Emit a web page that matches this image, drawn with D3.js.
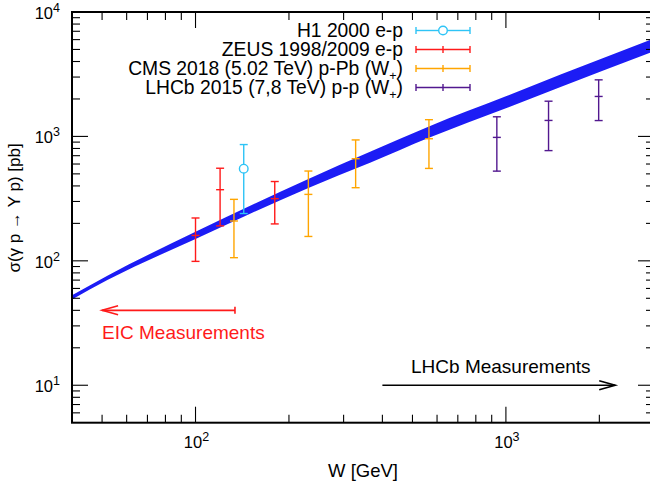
<!DOCTYPE html>
<html>
<head>
<meta charset="utf-8">
<script src="https://cdn.jsdelivr.net/npm/d3@7"></script>
<style>
  body { margin: 0; background: #fff; }
  svg { display: block; font-family: "Liberation Sans", Arial, Helvetica, sans-serif; }
</style>
</head>
<body>
<svg id="chart" width="650" height="489"></svg>
<script>
// theory band (W in GeV, sigma in pb)
const curveW    = [40, 52, 100, 230, 365, 565, 1000, 1500, 3000];
const curveLow  = [49, 70, 150, 384, 614, 974, 1683, 2500, 4840];
const curveHigh = [53, 76, 171, 453, 753, 1204, 2100, 3140, 6140];

// measurements
const h1W = [143], h1Sigma = [550], h1Err = [310];
const zeusW = [100, 120, 180], zeusSigma = [160, 373, 316], zeusErr = [61, 182, 118];
const cmsW = [133, 231, 328, 565], cmsSigma = [209, 342, 662, 958], cmsErr = [103, 185, 275, 405];
const lhcbW = [935, 1372, 1990], lhcbSigma = [982, 1344, 2095], lhcbErr = [456, 575, 754];

const legendLabels = [
  ["H1 2000 e-p"],
  ["ZEUS 1998/2009 e-p"],
  ["CMS 2018 (5.02 TeV) p-Pb (W", "+", ")"],
  ["LHCb 2015 (7,8 TeV) p-p (W", "+", ")"]
];
const xMajor = [100, 1000];
const yMajor = [10, 100, 1000, 10000];

// arrows: [W start, W end, sigma]
const eicArrow = [134, 50, 40];
const lhcbArrow = [400, 2250, 10];

const margin = {left: 72, top: 12, right: 654, bottom: 422.7};

const x = d3.scaleLog().domain([40, 3000]).range([margin.left, margin.right]);
const y = d3.scaleLog().domain([5, 10000]).range([margin.bottom, margin.top]);

const svg = d3.select("#chart");

svg.append("clipPath").attr("id", "clip")
  .append("rect")
  .attr("x", margin.left).attr("y", margin.top)
  .attr("width", margin.right - margin.left).attr("height", margin.bottom - margin.top);

// band
const band = curveW.map((w, i) => ({w, lo: curveLow[i], hi: curveHigh[i]}));
svg.append("path")
  .datum(band)
  .attr("clip-path", "url(#clip)")
  .attr("fill", "#1c1cf5")
  .attr("d", d3.area()
    .x(d => x(d.w))
    .y0(d => y(d.lo))
    .y1(d => y(d.hi))
    .curve(d3.curveMonotoneX));

// error bars
const series = [
  {W: h1W, s: h1Sigma, e: h1Err, color: "#2ec4f6", marker: "circle"},
  {W: zeusW, s: zeusSigma, e: zeusErr, color: "#ff1a1a", marker: "plus"},
  {W: cmsW, s: cmsSigma, e: cmsErr, color: "#ffa500", marker: "plus"},
  {W: lhcbW, s: lhcbSigma, e: lhcbErr, color: "#52188f", marker: "plus"}
];

const capHalf = 4;
series.forEach(sr => {
  const g = svg.append("g").attr("stroke", sr.color).attr("stroke-width", 1.4).attr("fill", "none");
  sr.W.forEach((w, i) => {
    const cx = x(w);
    const top = y(sr.s[i] + sr.e[i]);
    const bot = y(sr.s[i] - sr.e[i]);
    const cy = y(sr.s[i]);
    if (sr.marker === "circle") {
      g.append("line").attr("x1", cx).attr("x2", cx).attr("y1", top).attr("y2", cy - 4.3);
      g.append("line").attr("x1", cx).attr("x2", cx).attr("y1", cy + 4.3).attr("y2", bot);
      g.append("circle").attr("cx", cx).attr("cy", cy).attr("r", 4.3);
    } else {
      g.append("line").attr("x1", cx).attr("x2", cx).attr("y1", top).attr("y2", bot);
      g.append("line").attr("x1", cx - capHalf).attr("x2", cx + capHalf).attr("y1", cy).attr("y2", cy);
    }
    g.append("line").attr("x1", cx - capHalf).attr("x2", cx + capHalf).attr("y1", top).attr("y2", top);
    g.append("line").attr("x1", cx - capHalf).attr("x2", cx + capHalf).attr("y1", bot).attr("y2", bot);
  });
});

// arrows
function arrow(x1, x2, yy, color, tail) {
  const g = svg.append("g").attr("stroke", color).attr("stroke-width", 1.6).attr("fill", "none");
  g.append("line").attr("x1", x1).attr("x2", x2).attr("y1", yy).attr("y2", yy);
  const dir = x2 > x1 ? -1 : 1;
  g.append("polyline")
    .attr("points", `${x2 + dir * 16},${yy - 4.5} ${x2},${yy} ${x2 + dir * 16},${yy + 4.5}`);
  if (tail) g.append("line").attr("x1", x1).attr("x2", x1).attr("y1", yy - 3.5).attr("y2", yy + 3.5);
}
arrow(x(eicArrow[0]), x(eicArrow[1]), y(eicArrow[2]), "#ff1a1a", true);
arrow(x(lhcbArrow[0]), x(lhcbArrow[1]), y(lhcbArrow[2]), "#000", false);

svg.append("text")
  .attr("x", x(eicArrow[1])).attr("y", y(eicArrow[2]) + 29)
  .attr("fill", "#ff1a1a").attr("font-size", 19)
  .text("EIC Measurements");
svg.append("text")
  .attr("x", (x(lhcbArrow[0]) + x(lhcbArrow[1])) / 2 + 2).attr("y", y(lhcbArrow[2]) - 12.5)
  .attr("text-anchor", "middle").attr("fill", "#000").attr("font-size", 19)
  .text("LHCb Measurements");

// frame and ticks
const axes = svg.append("g");
axes.append("rect")
  .attr("x", margin.left).attr("y", margin.top)
  .attr("width", margin.right - margin.left).attr("height", margin.bottom - margin.top)
  .attr("fill", "none").attr("stroke", "#000").attr("stroke-width", 2);

const isMajor = v => Math.abs(Math.log10(v) - Math.round(Math.log10(v))) < 1e-9;
x.ticks().forEach(v => {
  const px = x(v);
  if (px <= margin.left + 1 || px >= margin.right - 1) return;
  const len = isMajor(v) ? 16 : 8;
  axes.append("line").attr("x1", px).attr("x2", px).attr("y1", margin.bottom).attr("y2", margin.bottom - len)
    .attr("stroke", "#000").attr("stroke-width", 1.1);
  axes.append("line").attr("x1", px).attr("x2", px).attr("y1", margin.top).attr("y2", margin.top + len)
    .attr("stroke", "#000").attr("stroke-width", 1.1);
});
y.ticks().forEach(v => {
  const py = y(v);
  if (py <= margin.top + 1 || py >= margin.bottom - 1) return;
  const len = isMajor(v) ? 16 : 8;
  axes.append("line").attr("x1", margin.left).attr("x2", margin.left + len).attr("y1", py).attr("y2", py)
    .attr("stroke", "#000").attr("stroke-width", 1.1);
  axes.append("line").attr("x1", margin.right).attr("x2", margin.right - len).attr("y1", py).attr("y2", py)
    .attr("stroke", "#000").attr("stroke-width", 1.1);
});

// tick labels
xMajor.forEach(v => {
  const t = svg.append("text").attr("x", x(v) + 1).attr("y", margin.bottom + 25)
    .attr("text-anchor", "middle").attr("font-size", 16.5);
  t.append("tspan").text("10");
  t.append("tspan").attr("dy", -7).attr("font-size", 12.5).text(Math.round(Math.log10(v)));
});
yMajor.forEach(v => {
  const t = svg.append("text").attr("x", 60).attr("y", y(v) + 7)
    .attr("text-anchor", "end").attr("font-size", 16.5);
  t.append("tspan").text("10");
  t.append("tspan").attr("dy", -7).attr("font-size", 12.5).text(Math.round(Math.log10(v)));
});

// axis titles
svg.append("text")
  .attr("x", (margin.left + margin.right) / 2).attr("y", 476.5)
  .attr("text-anchor", "middle").attr("font-size", 18.5)
  .text("W [GeV]");
svg.append("text")
  .attr("transform", "translate(20,208) rotate(-90)")
  .attr("text-anchor", "middle").attr("font-size", 17)
  .text("σ(γ p → Υ p) [pb]");

// legend
const legX = 403, legY0 = 30.5, legDy = 19;
legendLabels.forEach((parts, i) => {
  const ly = legY0 + i * legDy;
  const t = svg.append("text").attr("x", legX).attr("y", ly + 6)
    .attr("text-anchor", "end").attr("font-size", 19.3);
  t.append("tspan").text(parts[0]);
  if (parts.length > 1) {
    t.append("tspan").attr("dy", 5).attr("font-size", 12.5).text(parts[1]);
    t.append("tspan").attr("dy", -5).text(parts[2]);
  }
  const sr = series[i];
  const g = svg.append("g").attr("stroke", sr.color).attr("stroke-width", 1.4).attr("fill", "none");
  const x1 = 416, x2 = 470, xm = 443;
  if (sr.marker === "circle") {
    g.append("line").attr("x1", x1).attr("x2", xm - 4.3).attr("y1", ly).attr("y2", ly);
    g.append("line").attr("x1", xm + 4.3).attr("x2", x2).attr("y1", ly).attr("y2", ly);
    g.append("circle").attr("cx", xm).attr("cy", ly).attr("r", 4.3);
  } else {
    g.append("line").attr("x1", x1).attr("x2", x2).attr("y1", ly).attr("y2", ly);
    g.append("line").attr("x1", xm).attr("x2", xm).attr("y1", ly - 3.5).attr("y2", ly + 3.5);
  }
  g.append("line").attr("x1", x1).attr("x2", x1).attr("y1", ly - 3.5).attr("y2", ly + 3.5);
  g.append("line").attr("x1", x2).attr("x2", x2).attr("y1", ly - 3.5).attr("y2", ly + 3.5);
});
</script>
</body>
</html>
